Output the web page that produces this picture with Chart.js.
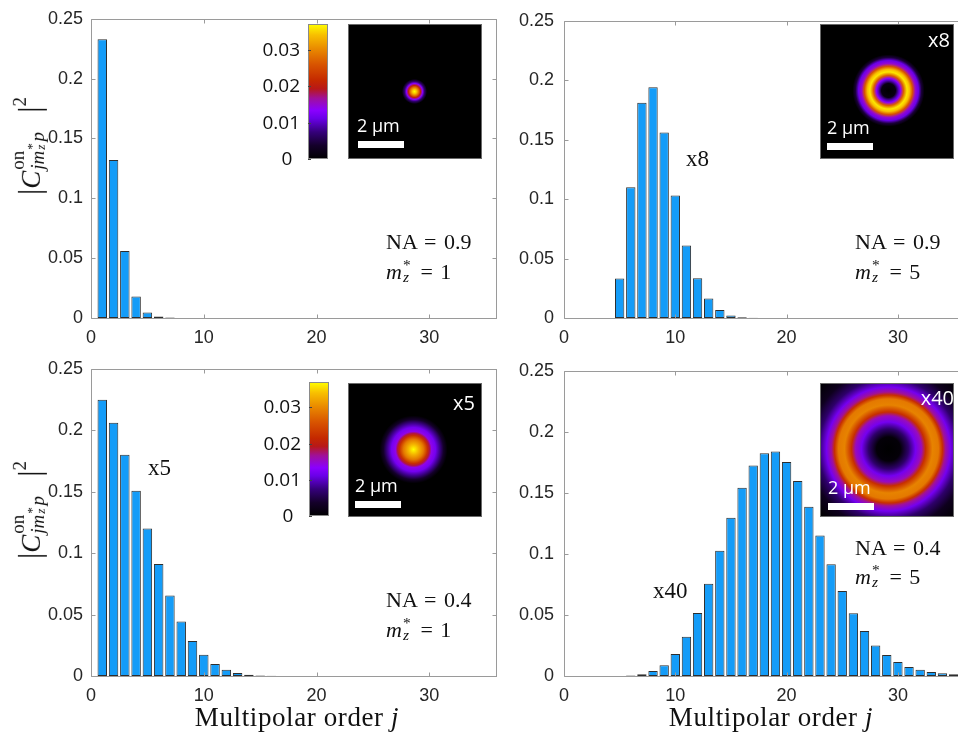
<!DOCTYPE html>
<html>
<head>
<meta charset="utf-8">
<script src="https://cdn.jsdelivr.net/npm/chart.js@4.4.1/dist/chart.umd.min.js"></script>
<style>
  body { margin: 0; background: #fff; }
  #wrap { position: relative; width: 958px; height: 740px; overflow: hidden; }
  canvas { position: absolute; }
  #overlay { left: 0; top: 0; pointer-events: none; }
  .lab { position: absolute; white-space: nowrap; line-height: 1; }
  .c { transform: translate(-50%, -50%); }
  .l { transform: translateY(-50%); }
  .r { transform: translate(-100%, -50%); }
  .serif { font-family: "Liberation Serif", "Times New Roman", serif; color: #111; }
  .sans { font-family: "Open Sans", "Liberation Sans", sans-serif; }
  .white { color: #fff; }
  .yl { transform: translate(-50%, -50%) rotate(-90deg); font-size: 27px; }
  .xt { font-size: 27px; letter-spacing: 0.6px; }
  .na { font-size: 22px; word-spacing: 2px; }
  .mark { font-size: 23px; }
  .inset { font-size: 18px; }
  .cb { font-size: 19px; color: #111; }
  .sz { display: inline-block; position: relative; width: 0.5em; height: 1em; }
  .sz > * { position: absolute; left: 1px; font-size: 0.7em; line-height: 1; }
  .sz .st { top: 0.0em; font-style: normal; }
  .sz .sb { top: 0.78em; }
  .ss { display: inline-block; position: relative; width: 2.15em; height: 1em; }
  .ss > span { position: absolute; left: 1px; font-size: 0.7em; line-height: 1; }
  .ss .up { top: -0.2em; font-style: normal; }
  .ss .dn { top: 0.62em; }
  .ss .sz .sb { top: 0.7em; }
  .vb { font-size: 1.15em; font-style: normal; }
  .sq { font-size: 0.7em; vertical-align: 0.75em; }
</style>
</head>
<body>
<div id="wrap">
  <canvas id="c1" width="510" height="350" style="left:0;top:0"></canvas>
  <canvas id="c2" width="448" height="350" style="left:510px;top:0"></canvas>
  <canvas id="c3" width="510" height="390" style="left:0;top:350px"></canvas>
  <canvas id="c4" width="448" height="390" style="left:510px;top:350px"></canvas>
  <canvas id="overlay" width="958" height="740"></canvas>
</div>
<script>
// multipolar order j
const orders = [1, 2, 3, 4, 5, 6, 7, 8, 9, 10, 11, 12, 13, 14, 15, 16, 17, 18,
  19, 20, 21, 22, 23, 24, 25, 26, 27, 28, 29, 30, 31, 32, 33, 34, 35];

// |C|^2 per order, one list per panel
const na09m1 = [0.233, 0.132, 0.056, 0.018, 0.0046, 0.0012, 0.0004, 0.0001, 0, 0,
  0, 0, 0, 0, 0, 0, 0, 0, 0, 0, 0, 0, 0, 0, 0, 0, 0, 0, 0, 0, 0, 0, 0, 0, 0];
const na09m5 = [0, 0, 0, 0, 0.0333, 0.110, 0.181, 0.194, 0.156, 0.103,
  0.061, 0.0335, 0.0165, 0.0067, 0.0022, 0.0007, 0.0002, 0, 0, 0,
  0, 0, 0, 0, 0, 0, 0, 0, 0, 0, 0, 0, 0, 0, 0];
const na04m1 = [0.2248, 0.2061, 0.1801, 0.1508, 0.1200, 0.0912, 0.0655, 0.0444, 0.0284, 0.0173,
  0.0097, 0.0051, 0.0024, 0.0011, 0.0005, 0.0002, 0.0001, 0, 0, 0,
  0, 0, 0, 0, 0, 0, 0, 0, 0, 0, 0, 0, 0, 0, 0];
const na04m5 = [0, 0, 0, 0, 0.0001, 0.0004, 0.0014, 0.0041, 0.0089, 0.0181,
  0.0322, 0.0517, 0.0755, 0.1026, 0.1297, 0.1541, 0.1725, 0.1825, 0.1839, 0.1752,
  0.1598, 0.1386, 0.1151, 0.0915, 0.0696, 0.0514, 0.0368, 0.0249, 0.0171, 0.0114,
  0.0073, 0.0051, 0.0032, 0.0022, 0.0014];

const yTicks = [0, 0.05, 0.1, 0.15, 0.2, 0.25];
const yTickLabels = ['0', '0.05', '0.1', '0.15', '0.2', '0.25'];
const xTicks = [0, 10, 20, 30];
const xTickLabels = ['0', '10', '20', '30'];
const colorbarTicks = [0.03, 0.02, 0.01, 0];
const colorbarLabels = ['0.03', '0.02', '0.01', '0'];

Chart.defaults.font.family = '"Liberation Sans", Arial, sans-serif';
Chart.defaults.font.size = 18;
Chart.defaults.color = '#262626';

// MATLAB style box with inward ticks
const boxTicks = {
  id: 'boxTicks',
  afterDatasetsDraw(chart, args, opts) {
    const { ctx, chartArea: a, scales: { x, y } } = chart;
    const L = Math.round(a.left) + 0.5, R = Math.round(a.right) - 0.5;
    const T = Math.round(a.top) + 0.5, B = Math.round(a.bottom) + 0.5;
    ctx.save();
    ctx.strokeStyle = '#9a9a9a';
    ctx.lineWidth = 1;
    ctx.beginPath();
    ctx.moveTo(a.right, T); ctx.lineTo(L, T); ctx.lineTo(L, B); ctx.lineTo(a.right, B);
    if (!opts.openRight) { ctx.moveTo(R, T); ctx.lineTo(R, B); }
    xTicks.forEach(v => {
      const px = Math.round(x.getPixelForValue(v)) + 0.5;
      ctx.moveTo(px, B); ctx.lineTo(px, B - 4);
      ctx.moveTo(px, T); ctx.lineTo(px, T + 4);
    });
    yTicks.forEach(v => {
      const py = Math.round(y.getPixelForValue(v)) + 0.5;
      ctx.moveTo(L, py); ctx.lineTo(L + 4, py);
      if (!opts.openRight) { ctx.moveTo(R, py); ctx.lineTo(R - 4, py); }
    });
    ctx.stroke();
    ctx.restore();
  }
};

function barChart(id, values, o) {
  return new Chart(document.getElementById(id), {
    type: 'bar',
    data: {
      datasets: [{
        data: orders.map((j, i) => ({ x: j, y: values[i] })),
        backgroundColor: '#149cf8',
        borderColor: '#2e2e2e',
        borderWidth: 1,
        borderSkipped: false,
        barPercentage: 0.84,
        categoryPercentage: 1
      }]
    },
    options: {
      responsive: false,
      animation: false,
      events: [],
      layout: { padding: { top: o.padTop, right: o.padRight, left: 0, bottom: 0 } },
      plugins: { legend: { display: false }, tooltip: { enabled: false }, boxTicks: { openRight: o.openRight } },
      scales: {
        x: {
          type: 'linear', min: 0, max: o.xMax, offset: false,
          grid: { display: false, drawTicks: false, offset: false },
          border: { display: false },
          afterBuildTicks: s => { s.ticks = xTicks.map(v => ({ value: v })); },
          afterFit: s => { s.height = o.xH; },
          ticks: { padding: 9, maxRotation: 0, autoSkip: false, callback: (v, i) => xTickLabels[i] }
        },
        y: {
          min: 0, max: 0.25,
          grid: { display: false, drawTicks: false },
          border: { display: false },
          afterBuildTicks: s => { s.ticks = yTicks.map(v => ({ value: v })); },
          afterFit: s => { s.width = o.yW; },
          ticks: { padding: o.yPad, callback: (v, i) => yTickLabels[i] }
        }
      }
    },
    plugins: [boxTicks]
  });
}

barChart('c1', na09m1, { xMax: 36, padTop: 10, padRight: 13, xH: 32, yW: 91, yPad: 8, openRight: false });
barChart('c2', na09m5, { xMax: 35.4, padTop: 10, padRight: 0, xH: 32, yW: 54, yPad: 10, openRight: true });
barChart('c3', na04m1, { xMax: 36, padTop: 18, padRight: 13, xH: 64, yW: 91, yPad: 8, openRight: false });
barChart('c4', na04m5, { xMax: 35.4, padTop: 18, padRight: 0, xH: 64, yW: 54, yPad: 10, openRight: true });

// ---- insets: colorbars and beam intensity pictures ----
const cmapStops = [[0, '#000000'], [0.1, '#14002a'], [0.2, '#35007a'], [0.3, '#6a00e8'], [0.36, '#8a00ff'],
  [0.45, '#a0109a'], [0.52, '#b81818'], [0.58, '#c42800'], [0.7, '#d85400'], [0.82, '#ea8c00'],
  [0.92, '#f8c000'], [1, '#ffff00']];

function hex(c) { return [1, 3, 5].map(k => parseInt(c.substr(k, 2), 16)); }
function cmap(t) {
  for (let k = 1; k < cmapStops.length; k++) {
    const [t1, c1] = cmapStops[k - 1], [t2, c2] = cmapStops[k];
    if (t <= t2) {
      const f = (t - t1) / (t2 - t1), a = hex(c1), b = hex(c2);
      return 'rgb(' + a.map((v, n) => Math.round(v + (b[n] - v) * f)).join(',') + ')';
    }
  }
  return cmapStops[cmapStops.length - 1][1];
}

const ov = document.getElementById('overlay').getContext('2d');

function colorbar(x, top, w, h) {
  const g = ov.createLinearGradient(0, top + h, 0, top);
  cmapStops.forEach(([t, c]) => g.addColorStop(t, c));
  ov.fillStyle = g;
  ov.fillRect(x, top, w, h);
  ov.strokeStyle = '#8a8a8a';
  ov.lineWidth = 1;
  ov.strokeRect(x + 0.5, top + 0.5, w - 1, h - 1);
  const vmax = 0.037;
  ov.strokeStyle = '#444';
  colorbarTicks.forEach((v, i) => {
    const py = Math.round(top + h - v / vmax * h) + 0.5;
    ov.beginPath(); ov.moveTo(x, py); ov.lineTo(x + 3, py); ov.stroke();
    const d = document.createElement('div');
    d.className = 'lab sans cb ' + (v === 0 ? 'c' : 'r');
    d.style.left = (v === 0 ? x - 21 : x - 8) + 'px';
    d.style.top = (py - 2) + 'px';
    d.textContent = colorbarLabels[i];
    document.getElementById('wrap').appendChild(d);
  });
}

function beam(rect, cx, cy, profile, bar) {
  const [x, y, w, h] = rect;
  ov.save();
  ov.beginPath(); ov.rect(x, y, w, h); ov.clip();
  ov.fillStyle = '#000';
  ov.fillRect(x, y, w, h);
  const rMax = profile[profile.length - 1][0];
  const g = ov.createRadialGradient(cx, cy, 0, cx, cy, rMax);
  profile.forEach(([r, t]) => g.addColorStop(r / rMax, cmap(t)));
  ov.fillStyle = g;
  ov.fillRect(x, y, w, h);
  ov.fillStyle = '#fff';
  ov.fillRect(bar[0], bar[1], 46, 7);
  ov.restore();
  ov.strokeStyle = '#6a6a6a';
  ov.strokeRect(x + 0.5, y + 0.5, w - 1, h - 1);
}

colorbar(308, 24, 20, 135);
colorbar(309, 382, 20, 134);

beam([348, 24, 134, 135], 414.5, 91.5,
  [[0, 1], [2, 0.93], [4, 0.78], [6, 0.56], [8, 0.36], [10, 0.18], [12.5, 0]], [358, 141]);
beam([820, 24, 134, 135], 888.5, 90.5,
  [[0, 0], [7, 0.04], [10, 0.26], [12, 0.36], [15, 0.72], [18.5, 0.97], [21, 0.92], [24, 0.7],
   [27, 0.4], [30, 0.3], [33, 0.12], [36, 0]], [827, 143]);
beam([348, 383, 134, 134], 413.5, 449.5,
  [[0, 1], [5, 0.9], [10, 0.78], [14, 0.6], [16, 0.5], [18, 0.38], [22, 0.32], [26, 0.22],
   [30, 0.1], [34, 0]], [355, 501]);
beam([820, 383, 134, 134], 888.5, 449,
  [[0, 0], [12, 0.02], [20, 0.18], [27, 0.32], [33, 0.42], [37, 0.6], [44, 0.8], [50, 0.78],
   [54, 0.6], [57, 0.45], [62, 0.32], [70, 0.18], [80, 0.07], [95, 0]], [828, 503]);
</script>

<!-- axis labels -->
<div class="lab serif yl" style="left:28px;top:146px"><span class="vb">|</span><i>C</i><span class="ss"><span class="up">on</span><span class="dn"><i>jm</i><span class="sz"><span class="st">*</span><i class="sb">z</i></span><i>p</i></span></span><span class="vb">|</span><span class="sq">2</span></div>
<div class="lab serif yl" style="left:28px;top:510px"><span class="vb">|</span><i>C</i><span class="ss"><span class="up">on</span><span class="dn"><i>jm</i><span class="sz"><span class="st">*</span><i class="sb">z</i></span><i>p</i></span></span><span class="vb">|</span><span class="sq">2</span></div>
<div class="lab serif xt c" style="left:297px;top:717px">Multipolar order <i>j</i></div>
<div class="lab serif xt c" style="left:771px;top:717px">Multipolar order <i>j</i></div>

<!-- panel notes -->
<div class="lab serif na l" style="left:386px;top:242px">NA = 0.9</div>
<div class="lab serif na l" style="left:386px;top:270px"><i>m</i><span class="sz"><span class="st">*</span><i class="sb">z</i></span> = 1</div>
<div class="lab serif na l" style="left:855px;top:242px">NA = 0.9</div>
<div class="lab serif na l" style="left:855px;top:270px"><i>m</i><span class="sz"><span class="st">*</span><i class="sb">z</i></span> = 5</div>
<div class="lab serif na l" style="left:386px;top:600px">NA = 0.4</div>
<div class="lab serif na l" style="left:386px;top:628px"><i>m</i><span class="sz"><span class="st">*</span><i class="sb">z</i></span> = 1</div>
<div class="lab serif na l" style="left:855px;top:548px">NA = 0.4</div>
<div class="lab serif na l" style="left:855px;top:575px"><i>m</i><span class="sz"><span class="st">*</span><i class="sb">z</i></span> = 5</div>

<div class="lab serif mark l" style="left:686px;top:158px">x8</div>
<div class="lab serif mark l" style="left:148px;top:467px">x5</div>
<div class="lab serif mark l" style="left:653px;top:590px">x40</div>

<!-- inset texts -->
<div class="lab sans inset white l" style="left:357px;top:125px">2 µm</div>
<div class="lab sans inset white l" style="left:827px;top:127px">2 µm</div>
<div class="lab sans inset white l" style="left:355px;top:485px">2 µm</div>
<div class="lab sans inset white l" style="left:828px;top:487px">2 µm</div>
<div class="lab sans inset white r" style="left:950px;top:40px;font-size:20px">x8</div>
<div class="lab sans inset white r" style="left:475px;top:403px;font-size:20px">x5</div>
<div class="lab sans inset white r" style="left:954px;top:398px;font-size:20px">x40</div>
</body>
</html>
